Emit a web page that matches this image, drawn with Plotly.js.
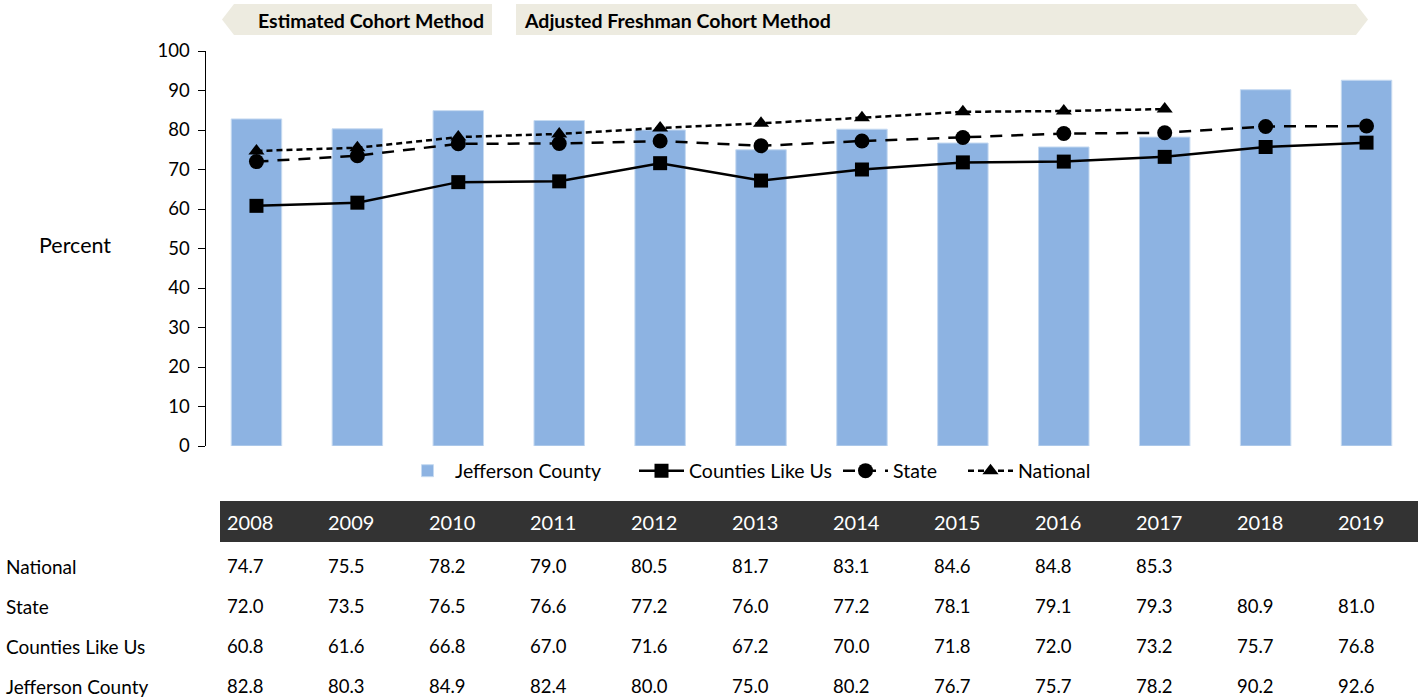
<!DOCTYPE html>
<html><head><meta charset="utf-8">
<script src="https://cdn.plot.ly/plotly-3.0.1.min.js"></script>
<style>html,body{margin:0;padding:0;background:#fff}#chart{width:1424px;height:700px}</style>
</head><body><div id="chart"></div>
<script>
const years = ['2008','2009','2010','2011','2012','2013','2014','2015','2016','2017','2018','2019'];
const jefferson = [82.8,80.3,84.9,82.4,80.0,75.0,80.2,76.7,75.7,78.2,90.2,92.6];
const countiesLikeUs = [60.8,61.6,66.8,67.0,71.6,67.2,70.0,71.8,72.0,73.2,75.7,76.8];
const state = [72.0,73.5,76.5,76.6,77.2,76.0,77.2,78.1,79.1,79.3,80.9,81.0];
const national = [74.7,75.5,78.2,79.0,80.5,81.7,83.1,84.6,84.8,85.3,null,null];
const rowNames = ['National','State','Counties Like Us','Jefferson County'];
const rowData = [national, state, countiesLikeUs, jefferson];
const bannerLeft = 'Estimated Cohort Method';
const bannerRight = 'Adjusted Freshman Cohort Method';

const FONT = 'Lato, "Open Sans", sans-serif';
const L = 206, R = 1417, T = 51, B = 446;
const W = R - L, H = B - T;
const px = x => (x - L) / W;
const py = y => (B - y) / H;

const traces = [
  {type:'bar', name:'Jefferson County', x:years, y:jefferson, width:0.5, legend:'legend',
   marker:{color:'#8DB3E2', line:{color:'#C6DAF1', width:1}}, hoverinfo:'y'},
  {type:'scatter', mode:'lines+markers', name:'Counties Like Us', x:years, y:countiesLikeUs, legend:'legend2',
   line:{color:'#000', width:2.5}, marker:{symbol:'square', size:14, color:'#000'}},
  {type:'scatter', mode:'lines+markers', name:'State', x:years, y:state, legend:'legend3',
   line:{color:'#000', width:2.5, dash:'12px,9px'}, marker:{symbol:'circle', size:15, color:'#000'}},
  {type:'scatter', mode:'lines+markers', name:'National', x:years, y:national, legend:'legend4',
   line:{color:'#000', width:2.5, dash:'6px,4px'}, marker:{symbol:'triangle-up', size:14, color:'#000'}}
];

const shapes = [];
const annotations = [];

// banners
const p = (x,y) => px(x).toFixed(5) + ',' + py(y).toFixed(5);
shapes.push({type:'path', xref:'paper', yref:'paper', layer:'below',
  path:'M'+p(222,19.5)+' L'+p(234,4)+' L'+p(492,4)+' L'+p(492,35)+' L'+p(234,35)+' Z',
  fillcolor:'#EDEBE0', line:{width:0}});
shapes.push({type:'path', xref:'paper', yref:'paper', layer:'below',
  path:'M'+p(516,4)+' L'+p(1356,4)+' L'+p(1368,19.5)+' L'+p(1356,35)+' L'+p(516,35)+' Z',
  fillcolor:'#EDEBE0', line:{width:0}});
annotations.push({xref:'paper', yref:'paper', x:px(371), y:py(20), text:'<b>'+bannerLeft+'</b>',
  showarrow:false, xanchor:'center', yanchor:'middle', font:{family:FONT, size:19.5, color:'#000'}});
annotations.push({xref:'paper', yref:'paper', x:px(522), y:py(20), text:'<b>'+bannerRight+'</b>',
  showarrow:false, xanchor:'left', yanchor:'middle', font:{family:FONT, size:19.5, color:'#000'}});

// y title
annotations.push({xref:'paper', yref:'paper', x:px(75), y:py(245), text:'Percent',
  showarrow:false, xanchor:'center', yanchor:'middle', font:{family:FONT, size:21.5, color:'#000'}});

// table header
shapes.push({type:'rect', xref:'paper', yref:'paper', x0:px(220), x1:px(1418), y0:py(501), y1:py(542),
  fillcolor:'#333333', line:{width:0}});
years.forEach((yr, j) => {
  annotations.push({xref:'x', yref:'paper', x:j, y:py(522), text:yr, showarrow:false,
    xanchor:'left', yanchor:'middle', xshift:-31, font:{family:FONT, size:20, color:'#fff'}});
});
const rowY = [566, 606, 646, 686];
rowNames.forEach((nm, i) => {
  annotations.push({xref:'paper', yref:'paper', x:px(4), y:py(rowY[i]), text:nm, showarrow:false,
    xanchor:'left', yanchor:'middle', font:{family:FONT, size:19, color:'#000'}});
  rowData[i].forEach((v, j) => {
    if (v === null) return;
    annotations.push({xref:'x', yref:'paper', x:j, y:py(rowY[i]), text:v.toFixed(1), showarrow:false,
      xanchor:'left', yanchor:'middle', xshift:-31, font:{family:FONT, size:18.5, color:'#000'}});
  });
});

const legBase = {orientation:'h', xanchor:'left', y:py(471), yanchor:'middle', itemwidth:45,
  font:{family:FONT, size:19.5, color:'#000'}, bgcolor:'rgba(0,0,0,0)', borderwidth:0};
const layout = {
  width:1424, height:700,
  margin:{l:L, r:1424-R, t:T, b:700-B, pad:0},
  paper_bgcolor:'#fff', plot_bgcolor:'#fff',
  font:{family:FONT, size:18, color:'#000'},
  showlegend:true,
  legend:Object.assign({}, legBase, {x:px(400)}),
  legend2:Object.assign({}, legBase, {x:px(634)}),
  legend3:Object.assign({}, legBase, {x:px(838)}),
  legend4:Object.assign({}, legBase, {x:px(963)}),
  xaxis:{type:'category', range:[-0.5, 11.5], showgrid:false, zeroline:false, showline:false,
    ticks:'', showticklabels:false, fixedrange:true},
  yaxis:{range:[0,100], dtick:10, showgrid:false, zeroline:false, showline:true, linecolor:'#000', linewidth:1.5,
    ticks:'outside', ticklen:7, tickcolor:'#000', tickwidth:1, ticklabelstandoff:4,
    tickfont:{family:FONT, size:18.5, color:'#000'}, fixedrange:true},
  bargap:0.5,
  shapes:shapes, annotations:annotations
};
Plotly.newPlot('chart', traces, layout, {displayModeBar:false, staticPlot:true});
</script></body></html>
